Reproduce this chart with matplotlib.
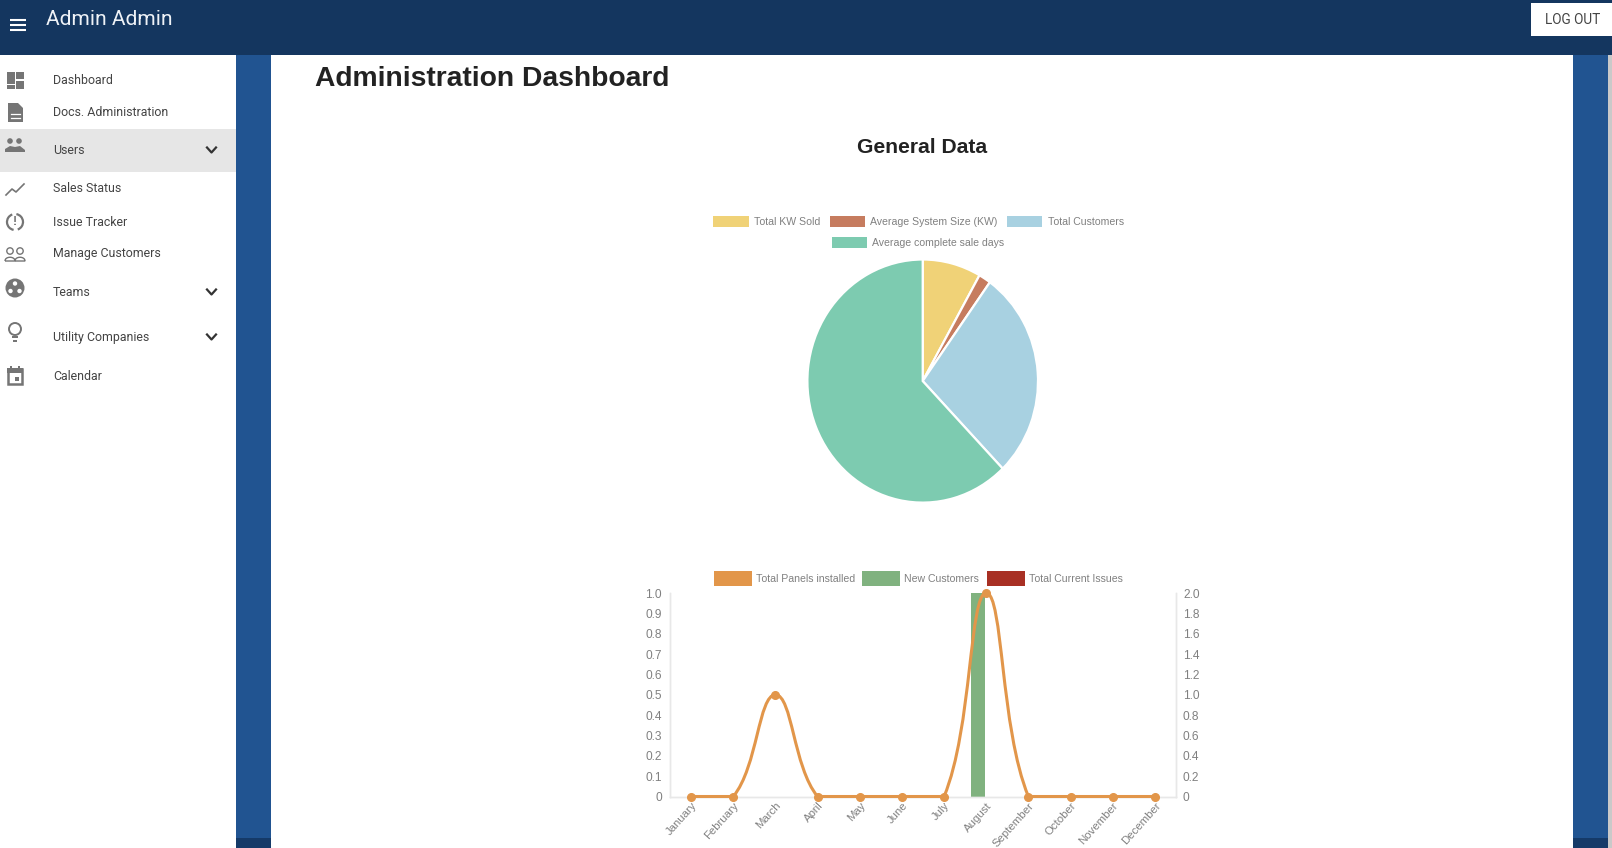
"""Admin dashboard screenshot: sidebar chrome, a pie chart and a combo bar/line chart."""
import matplotlib
matplotlib.use("Agg")
import matplotlib.pyplot as plt
import numpy as np
from matplotlib.patches import Circle, Polygon, Rectangle, PathPatch, Arc
from matplotlib.path import Path
from matplotlib.transforms import ScaledTranslation

W, H = 1612, 848

HEADER = "#14365f"
BAND = "#215491"
BAND_DARK = "#153a68"
ICON = "#757575"
MENU_TEXT = "#444444"
CHART_TEXT = "#808080"
AXIS = "#e8e8e8"

menu_items = ["Dashboard", "Docs. Administration", "Users", "Sales Status", "Issue Tracker",
              "Manage Customers", "Teams", "Utility Companies", "Calendar"]
menu_y = [79, 111, 150, 188, 221, 253, 292, 337, 375]
chevron_y = [150, 292, 337]

pie_labels = ["Total KW Sold", "Average System Size (KW)", "Total Customers", "Average complete sale days"]
pie_values = [8.2, 1.7, 27.9, 62.2]
pie_colors = ["#f0d277", "#c67c5f", "#a8d1e1", "#7dcbb0"]

months = ["January", "February", "March", "April", "May", "June", "July", "August",
          "September", "October", "November", "December"]
panels = [0, 0, 1, 0, 0, 0, 0, 2, 0, 0, 0, 0]
new_customers = [0, 0, 0, 0, 0, 0, 0, 1, 0, 0, 0, 0]
current_issues = [0, 0, 0, 0, 0, 0, 0, 0, 0, 0, 0, 0]
left_ticks = [0, 0.1, 0.2, 0.3, 0.4, 0.5, 0.6, 0.7, 0.8, 0.9, 1.0]
right_ticks = [0, 0.2, 0.4, 0.6, 0.8, 1.0, 1.2, 1.4, 1.6, 1.8, 2.0]
bar_labels = ["Total Panels installed", "New Customers", "Total Current Issues"]
bar_colors = ["#e2964a", "#80b27f", "#a83024"]

plt.rcParams["font.family"] = ["Liberation Sans", "DejaVu Sans"]


def px_axes(fig, left, top, right, bottom, **kw):
    return fig.add_axes([left / W, 1 - bottom / H, (right - left) / W, (bottom - top) / H], **kw)


def rect(ax, x0, y0, x1, y1, color, **kw):
    ax.add_patch(Rectangle((x0, y0), x1 - x0, y1 - y0, facecolor=color, edgecolor="none", **kw))


def draw_icons(ax):
    # dashboard
    rect(ax, 7, 72, 14.5, 84, ICON); rect(ax, 7, 85, 14.5, 89, ICON)
    rect(ax, 16, 72, 23.5, 79, ICON); rect(ax, 16, 81, 23.5, 89, ICON)
    # document
    ax.add_patch(Polygon([(8, 103), (18, 103), (23, 108), (23, 122), (8, 122)], fc=ICON, ec="none"))
    for y in (114, 118):
        ax.plot([11, 20], [y, y], color="white", lw=0.9)
    # users
    for cx in (10, 19):
        ax.add_patch(Circle((cx, 141), 2.8, fc=ICON, ec="none"))
    ax.add_patch(Polygon([(5, 152), (5, 149), (10, 146), (15, 147), (20, 146), (25, 150), (25, 152)],
                         fc=ICON, ec="none"))
    # sales status
    ax.plot([6, 12, 16, 24], [195, 189, 192, 184], color=ICON, lw=1.2)
    # issue tracker
    ax.add_patch(Arc((15, 222), 16, 16, theta1=100, theta2=250, color=ICON, lw=1.6))
    ax.add_patch(Arc((15, 222), 16, 16, theta1=280, theta2=70, color=ICON, lw=1.6))
    ax.text(15, 222, "!", color=ICON, fontsize=9, fontweight="bold", ha="center", va="center")
    # manage customers
    for cx in (10, 20):
        ax.add_patch(Circle((cx, 251), 3.2, fc="none", ec=ICON, lw=1.0))
        ax.add_patch(PathPatch(Path([(cx - 5, 261), (cx - 5, 256), (cx + 5, 256), (cx + 5, 261), (cx - 5, 261)],
                                    [Path.MOVETO, Path.CURVE4, Path.CURVE4, Path.CURVE4, Path.LINETO]),
                               fc="none", ec=ICON, lw=1.0))
    # teams
    ax.add_patch(Circle((15, 288), 9.5, fc=ICON, ec="none"))
    for cx, cy in ((15, 283.5), (10.5, 291), (19.5, 291)):
        ax.add_patch(Circle((cx, cy), 2.2, fc="white", ec="none"))
    # bulb
    ax.add_patch(Circle((15, 329), 6, fc="none", ec=ICON, lw=1.4))
    rect(ax, 12, 336, 18, 338, ICON); rect(ax, 13, 340, 17, 341.5, ICON)
    # calendar
    ax.add_patch(Rectangle((8, 369), 14, 15, fc="none", ec=ICON, lw=1.8))
    rect(ax, 7, 368, 23, 373, ICON)
    rect(ax, 10, 366, 12, 369, ICON); rect(ax, 18, 366, 20, 369, ICON)
    rect(ax, 15, 377, 19, 381, ICON)


def draw_chrome(ax):
    ax.set_xlim(0, W); ax.set_ylim(H, 0); ax.axis("off")
    # page blocks
    rect(ax, 236, 55, 271, 838, BAND)
    rect(ax, 236, 838, 271, H, BAND_DARK)
    rect(ax, 1573, 55, 1608, 838, BAND)
    rect(ax, 1573, 838, 1608, H, BAND_DARK)
    rect(ax, 1608, 55, W, H, "#c9c9c9")
    rect(ax, 0, 129, 236, 172, "#e6e6e6")
    rect(ax, 0, 0, W, 55, HEADER)
    rect(ax, 1531, 3, W, 36, "white")
    # header
    for y in (20, 25, 30):
        ax.plot([10, 26], [y, y], color="white", lw=1.5, solid_capstyle="butt")
    ax.text(46, 19.5, "Admin Admin", color="#eef2f7", fontsize=15.1, family="Roboto", ha="left", va="center")
    ax.text(1573, 20.5, "LOG OUT", color="#444444", fontsize=9.8, family="Roboto", ha="center", va="center")
    # sidebar
    for name, y in zip(menu_items, menu_y):
        ax.text(53, y + 1, name, color=MENU_TEXT, fontsize=8.9, family="Roboto", ha="left", va="center")
    for y in chevron_y:
        ax.plot([207, 211.5, 216], [y - 2.5, y + 2.5, y - 2.5], color="#333333", lw=1.6)
    draw_icons(ax)
    # titles
    ax.text(315, 78.5, "Administration Dashboard", color="#222222", fontsize=20.3, fontweight="bold",
            ha="left", va="center")
    ax.text(922, 147.5, "General Data", color="#222222", fontsize=15.2, fontweight="bold",
            ha="center", va="center")


def draw_legend(ax, labels, colors, boxes, text_x, ys, fontsize=7.6):
    for label, color, (x0, x1), tx, (y0, y1) in zip(labels, colors, boxes, text_x, ys):
        rect(ax, x0, y0, x1, y1, color)
        ax.text(tx, (y0 + y1) / 2 + 0.5, label, color=CHART_TEXT, fontsize=fontsize, ha="left", va="center")


def smooth_path(xs, ys, sx, sy, tension=0.4):
    # same spline a canvas chart uses: control points worked out in pixel space, capped to the area
    px = np.asarray(xs, float) * sx
    py = np.asarray(ys, float) * sy
    verts = [(px[0], py[0])]
    codes = [Path.MOVETO]
    n = len(px)
    ctrl_prev, ctrl_next = [None] * n, [None] * n
    for i in range(n):
        a = max(i - 1, 0); b = min(i + 1, n - 1)
        d01 = np.hypot(px[i] - px[a], py[i] - py[a])
        d12 = np.hypot(px[b] - px[i], py[b] - py[i])
        tot = d01 + d12 if d01 + d12 else 1
        fa, fb = tension * d01 / tot, tension * d12 / tot
        dx, dy = px[b] - px[a], py[b] - py[a]
        lo, hi = py.min(), py.max()
        ctrl_prev[i] = (px[i] - fa * dx, np.clip(py[i] - fa * dy, lo, hi))
        ctrl_next[i] = (px[i] + fb * dx, np.clip(py[i] + fb * dy, lo, hi))
    for i in range(n - 1):
        verts += [ctrl_next[i], ctrl_prev[i + 1], (px[i + 1], py[i + 1])]
        codes += [Path.CURVE4] * 3
    verts = np.array(verts) / [sx, sy]
    return Path(verts, codes)


def draw_combo(ax):
    x = np.arange(len(months))
    w = 0.34
    off = 0.195
    ax.bar(x - off, new_customers, w, color=bar_colors[1], zorder=2)
    ax.bar(x + off, current_issues, w, color=bar_colors[2], zorder=2)
    ax.set_xlim(-0.5, 11.5); ax.set_ylim(0, 1)
    ax.set_yticks(left_ticks)
    ax.set_yticklabels(["0"] + [f"{t:.1f}" for t in left_ticks[1:]])
    ax.set_xticks(x)
    ax.set_xticklabels(months, rotation=48, ha="right", rotation_mode="anchor", fontsize=8.2)
    nudge = ScaledTranslation(-5 / 100, 0, ax.figure.dpi_scale_trans)
    for lab in ax.get_xticklabels():
        lab.set_transform(lab.get_transform() + nudge)
    ax.tick_params(axis="y", length=0, labelsize=8.6, labelcolor=CHART_TEXT, pad=6)
    ax.tick_params(axis="x", length=0, labelcolor=CHART_TEXT, pad=3)

    ax2 = ax.twinx()
    ax2.set_ylim(0, 2)
    ax2.set_yticks(right_ticks)
    ax2.set_yticklabels(["0"] + [f"{t:.1f}" for t in right_ticks[1:]])
    ax2.tick_params(axis="y", length=0, labelsize=8.6, labelcolor=CHART_TEXT, pad=5)
    path = smooth_path(x, panels, 506 / 12, 204 / 2)
    ax2.add_patch(PathPatch(path, fc="none", ec=bar_colors[0], lw=2.2, zorder=3, clip_on=False))
    ax2.plot(x, panels, ls="none", marker="o", ms=5.5, color=bar_colors[0], zorder=4, clip_on=False)
    for a in (ax, ax2):
        a.spines["top"].set_visible(False)
        for s in ("left", "right", "bottom"):
            a.spines[s].set_color(AXIS)
            a.spines[s].set_linewidth(1)
    ax.patch.set_alpha(0)


fig = plt.figure(figsize=(W / 100, H / 100), dpi=100, facecolor="white")

chrome = px_axes(fig, 0, 0, W, H)
draw_chrome(chrome)
draw_legend(chrome, pie_labels, pie_colors,
            [(713, 749), (829.5, 864.5), (1006.7, 1042), (832, 867)],
            [754, 870, 1047.5, 872.5],
            [(216, 227), (216, 227), (216, 227), (237, 248)])
draw_legend(chrome, bar_labels, bar_colors,
            [(713.5, 751.5), (861.5, 899.6), (987, 1025)],
            [755.6, 903.7, 1029],
            [(571, 585.5)] * 3)

pie_ax = px_axes(fig, 807.4, 259.5, 1038, 502.6)
pie_ax.pie(pie_values, colors=pie_colors, startangle=90, counterclock=False, radius=1,
           wedgeprops={"edgecolor": "white", "linewidth": 1.6})
pie_ax.set_aspect("auto")
pie_ax.set_xlim(-1, 1); pie_ax.set_ylim(-1, 1)

combo_ax = px_axes(fig, 670, 593, 1176, 796.5)
draw_combo(combo_ax)

fig.savefig("out.png", dpi=100)
